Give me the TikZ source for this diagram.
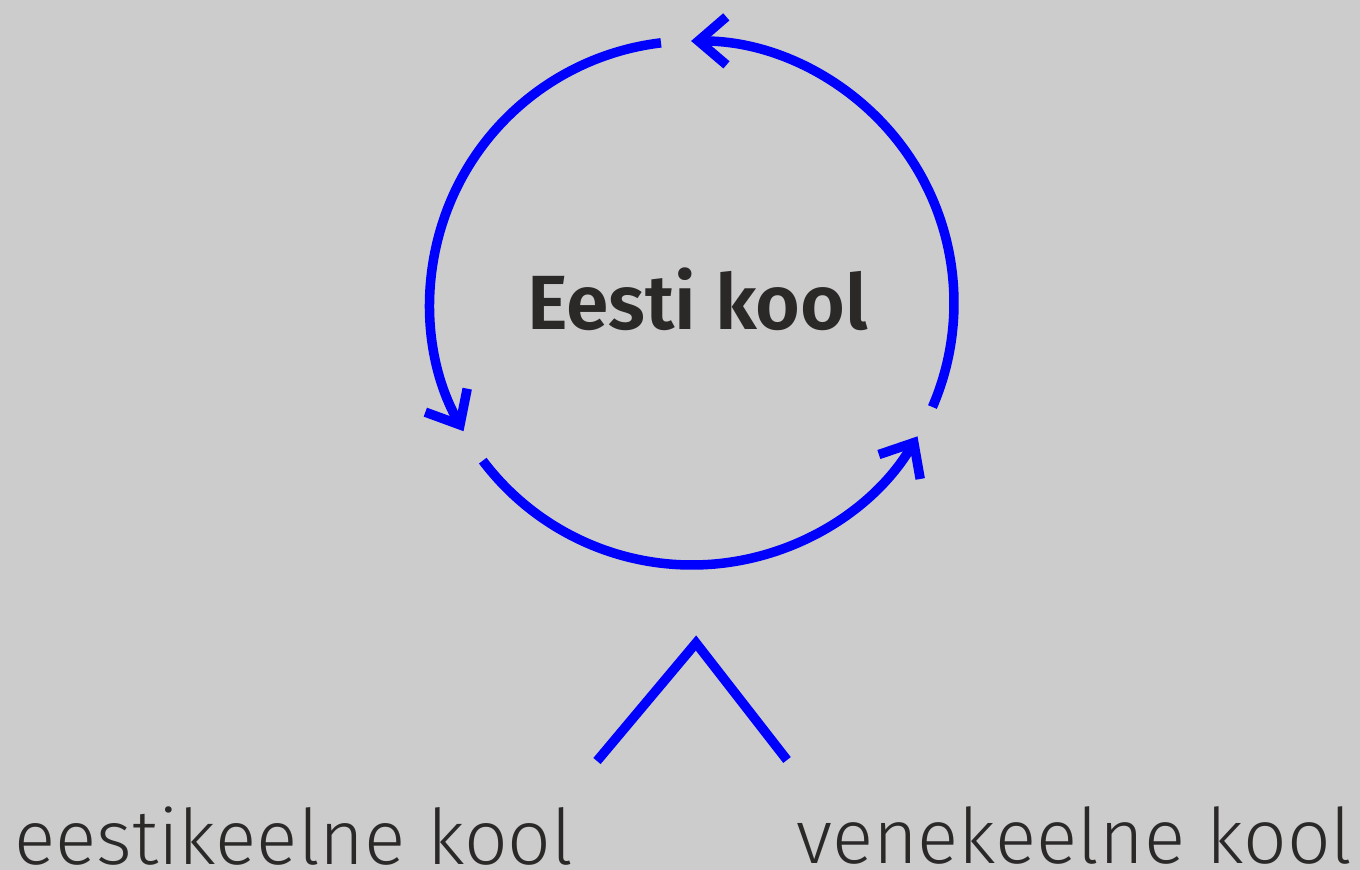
\documentclass[tikz,border=0pt]{standalone}
\usepackage{fontspec}
\setmainfont{Fira Sans}[UprightFont=* Light, BoldFont=* SemiBold]
\usetikzlibrary{arrows.meta}
\definecolor{bg}{HTML}{CCCCCC}
\definecolor{txt}{HTML}{2B2828}
\definecolor{blu}{HTML}{0000FF}
\begin{document}
\begin{tikzpicture}[x=1pt,y=1pt,
  ring/.style={draw=blu,line width=9.5pt,line cap=butt,
    -{Straight Barb[sharp,length=28pt,width=48pt]}},
  vline/.style={draw=blu,line width=9.5pt,line join=miter,line cap=butt},
  lbl/.style={inner sep=0pt,anchor=base west,text=txt}]
\fill[bg] (0,0) rectangle (1360,870);
\useasboundingbox (0,0) rectangle (1360,870);
\coordinate (c) at (692,567);
\draw[ring] ([shift={(96.8:262)}]c) arc[start angle=96.8,end angle=209.3,radius=262];
\draw[ring] ([shift={(217:262)}]c) arc[start angle=217,end angle=329.4,radius=262];
\draw[ring] ([shift={(336.6:262)}]c) arc[start angle=336.6,end angle=450.2,radius=262];
\node[lbl] (main) at (527,540) {\resizebox{341pt}{!}{\bfseries Eesti kool}};
\coordinate (vl) at (597,109);
\coordinate (vt) at (696,227);
\coordinate (vr) at (787,110);
\draw[vline] (vl) -- (vt) -- (vr);
\node[lbl] (est) at (14,6) {\resizebox{559pt}{!}{eestikeelne kool}};
\node[lbl] (ven) at (796,7) {\resizebox{556pt}{!}{venekeelne kool}};
\end{tikzpicture}
\end{document}
